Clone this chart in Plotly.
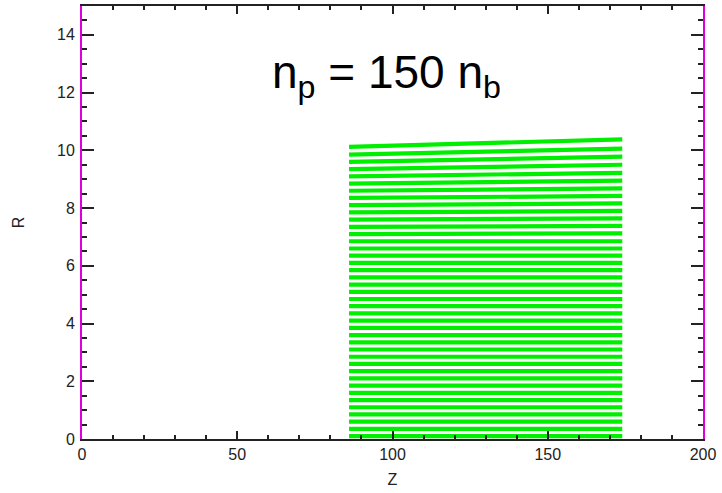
import plotly.graph_objects as go

# Beam particle rows (R position at left and right end of each stripe)
row_r_left = [0.10, 0.35, 0.60, 0.85, 1.10, 1.35, 1.60, 1.85, 2.10, 2.35,
              2.60, 2.85, 3.10, 3.35, 3.60, 3.85, 4.10, 4.35, 4.60, 4.85,
              5.10, 5.35, 5.60, 5.85, 6.10, 6.35, 6.60, 6.85, 7.10, 7.35,
              7.60, 7.85, 8.10, 8.35, 8.60, 8.85, 9.10, 9.35, 9.60, 9.85, 10.12]
row_r_right = [0.10, 0.35, 0.60, 0.85, 1.10, 1.35, 1.60, 1.85, 2.10, 2.35,
               2.60, 2.85, 3.10, 3.35, 3.60, 3.85, 4.10, 4.35, 4.60, 4.85,
               5.10, 5.35, 5.60, 5.85, 6.10, 6.35, 6.60, 6.85, 7.12, 7.38,
               7.64, 7.90, 8.16, 8.42, 8.68, 8.95, 9.22, 9.50, 9.78, 10.06, 10.38]
z_start = 86.0
z_end = 174.0

xticks = [0, 50, 100, 150, 200]
yticks = [0, 2, 4, 6, 8, 10, 12, 14]

xs, ys = [], []
for rl, rr in zip(row_r_left, row_r_right):
    xs += [z_start, z_end, None]
    ys += [rl, rr, None]

fig = go.Figure()
fig.add_trace(go.Scatter(x=xs, y=ys, mode="lines",
                         line=dict(color="#00ee00", width=4.2),
                         hoverinfo="skip", showlegend=False))

font = dict(family="Liberation Sans, Arial, sans-serif", size=16, color="#222222")

fig.update_layout(
    width=722, height=493,
    margin=dict(l=82, r=19, t=6, b=54),
    paper_bgcolor="white", plot_bgcolor="white",
    font=font,
    xaxis=dict(range=[0, 200], tickvals=xticks, ticks="inside", ticklen=8,
               tickwidth=1.5, tickcolor="#222222", automargin=False,
               showline=True, linecolor="#222222", linewidth=2, mirror="ticks",
               showgrid=False, zeroline=False,
               minor=dict(dtick=10, ticks="inside", ticklen=4, tickcolor="#222222", tickwidth=1.5),
               title=dict(text="Z", font=font, standoff=12), tickfont=font),
    yaxis=dict(range=[0, 15], tickvals=yticks, ticks="inside", ticklen=12,
               tickwidth=1.5, tickcolor="#222222", automargin=False,
               showline=True, linecolor="#dd00dd", linewidth=2, mirror="ticks",
               showgrid=False, zeroline=False, ticklabelstandoff=2,
               minor=dict(dtick=0.5, ticks="inside", ticklen=5, tickcolor="#222222", tickwidth=1.5),
               title=dict(text="R", font=font, standoff=28), tickfont=font),
    annotations=[dict(text="n<sub>p</sub> = 150 n<sub>b</sub>", x=98, y=12.6,
                      xref="x", yref="y", showarrow=False,
                      font=dict(family="Liberation Sans, Arial, sans-serif", size=46, color="black"))],
)

fig.write_html("out.html", config={"displayModeBar": False},
               post_script="document.body.style.margin='0';")
